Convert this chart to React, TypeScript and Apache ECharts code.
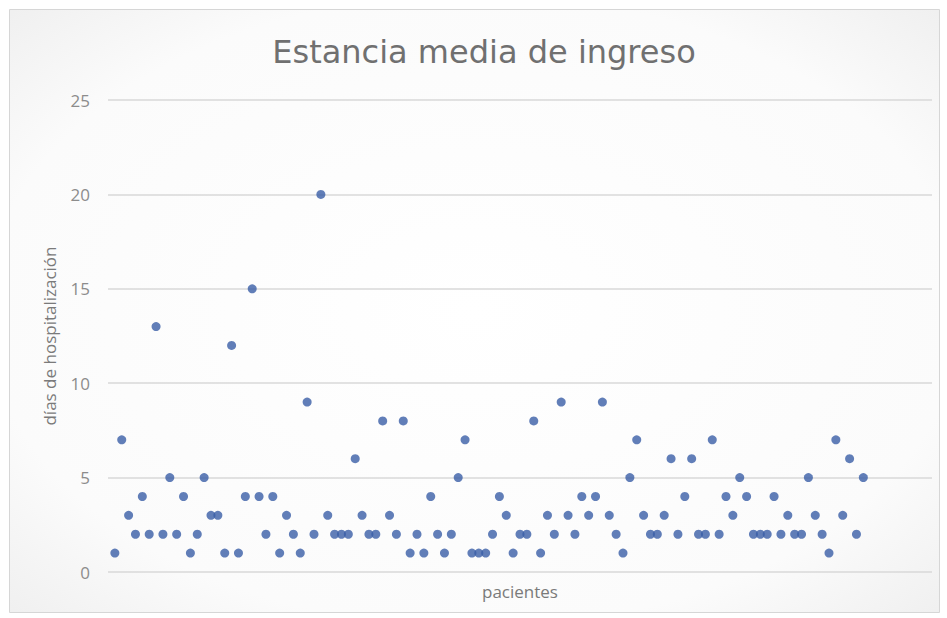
import React, { useEffect, useRef } from "react";
import * as echarts from "echarts";

const title = "Estancia media de ingreso";
const yAxisName = "días de hospitalización";
const xAxisName = "pacientes";
const yTicks = [0, 5, 10, 15, 20, 25];

// días de hospitalización por paciente (paciente 1..110)
const estancia: number[] = [
  1, 7, 3, 2, 4, 2, 13, 2, 5, 2,
  4, 1, 2, 5, 3, 3, 1, 12, 1, 4,
  15, 4, 2, 4, 1, 3, 2, 1, 9, 2,
  20, 3, 2, 2, 2, 6, 3, 2, 2, 8,
  3, 2, 8, 1, 2, 1, 4, 2, 1, 2,
  5, 7, 1, 1, 1, 2, 4, 3, 1, 2,
  2, 8, 1, 3, 2, 9, 3, 2, 4, 3,
  4, 9, 3, 2, 1, 5, 7, 3, 2, 2,
  3, 6, 2, 4, 6, 2, 2, 7, 2, 4,
  3, 5, 4, 2, 2, 2, 4, 2, 3, 2,
  2, 5, 3, 2, 1, 7, 3, 6, 2, 5,
];

export default function App() {
  const ref = useRef<HTMLDivElement>(null);
  useEffect(() => {
    if (!ref.current) return;
    const chart = echarts.init(ref.current, undefined, { renderer: "svg" });
    const data = estancia.map((v, i) => [i + 1, v]);
    chart.setOption({
      animation: false,
      backgroundColor: "#ffffff",
      graphic: [
        {
          type: "rect",
          shape: { x: 9.5, y: 9.5, width: 930, height: 603 },
          style: {
            fill: new echarts.graphic.RadialGradient(0.5, 0.5, 0.75, [
              { offset: 0, color: "#ffffff" },
              { offset: 0.7, color: "#fbfbfb" },
              { offset: 1, color: "#ededed" },
            ]),
            stroke: "#d6d6d6",
            lineWidth: 1,
          },
          z: -10,
          silent: true,
        },
      ],
      title: {
        text: title,
        left: 479,
        top: 31,
        textAlign: "center",
        textStyle: {
          fontFamily: "DejaVu Sans",
          fontSize: 32,
          fontWeight: "normal",
          color: "#707070",
        },
      },
      grid: { left: 108, top: 100, width: 824, height: 472 },
      xAxis: {
        type: "value",
        min: 0,
        max: 120,
        axisLine: { show: false },
        axisTick: { show: false },
        axisLabel: { show: false },
        splitLine: { show: false },
        name: xAxisName,
        nameLocation: "middle",
        nameGap: 11,
        nameTextStyle: { fontFamily: "Open Sans", fontSize: 17, color: "#7a7a7a" },
      },
      yAxis: {
        type: "value",
        min: 0,
        max: 25,
        interval: 5,
        axisLine: { show: false },
        axisTick: { show: false },
        axisLabel: {
          margin: 18,
          fontFamily: "Open Sans",
          fontSize: 17,
          color: "#8c8c8c",
          formatter: (v: number) => (yTicks.includes(v) ? String(v) : ""),
        },
        splitLine: { lineStyle: { color: "#d9d9d9", width: 1.5 } },
        name: yAxisName,
        nameLocation: "middle",
        nameGap: 50,
        nameTextStyle: { fontFamily: "Open Sans", fontSize: 17, color: "#7a7a7a" },
      },
      series: [
        {
          type: "scatter",
          data,
          symbol: "circle",
          symbolSize: 9,
          itemStyle: { color: "#3a5ea6" },
        },
      ],
    });
    return () => chart.dispose();
  }, []);
  return (
    <div
      ref={ref}
      style={{ position: "fixed", left: 0, top: 0, width: 947, height: 618 }}
    />
  );
}
